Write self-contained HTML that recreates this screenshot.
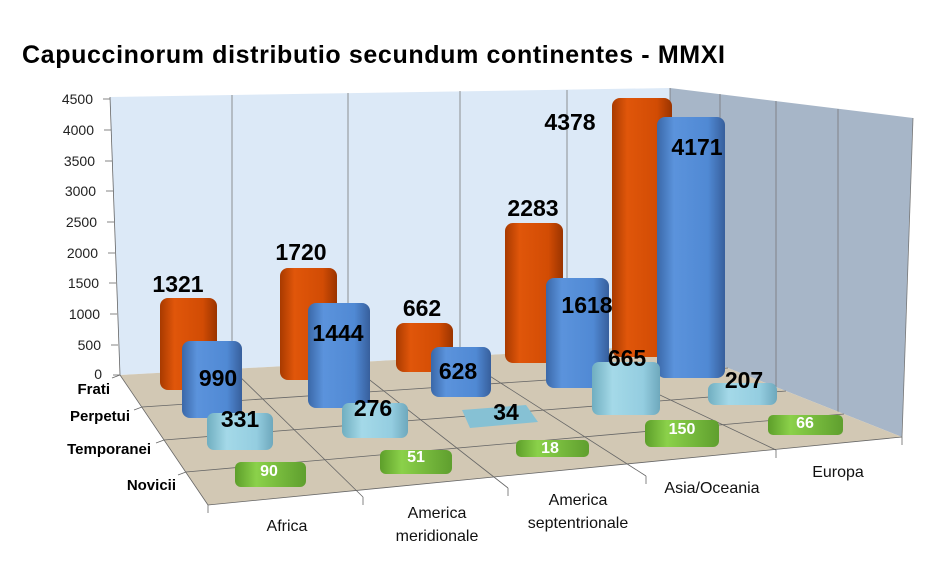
<!DOCTYPE html>
<html><head><meta charset="utf-8"><style>body{margin:0;background:#fff}svg{display:block}</style></head><body>
<svg width="950" height="576" viewBox="0 0 950 576" xmlns="http://www.w3.org/2000/svg" font-family="Liberation Sans, sans-serif">
<defs>
<linearGradient id="go" x1="0" x2="1"><stop offset="0" stop-color="#a83a00"/><stop offset="0.25" stop-color="#e0560a"/><stop offset="0.75" stop-color="#d24c04"/><stop offset="1" stop-color="#9a3400"/></linearGradient>
<linearGradient id="gb" x1="0" x2="1"><stop offset="0" stop-color="#3a68a8"/><stop offset="0.25" stop-color="#5b93dc"/><stop offset="0.75" stop-color="#5089d4"/><stop offset="1" stop-color="#375f9c"/></linearGradient>
<linearGradient id="gl" x1="0" x2="1"><stop offset="0" stop-color="#70aec0"/><stop offset="0.3" stop-color="#a4d9e8"/><stop offset="0.75" stop-color="#94cde0"/><stop offset="1" stop-color="#6ea8bc"/></linearGradient>
<linearGradient id="gg" x1="0" x2="1"><stop offset="0" stop-color="#5d9e2a"/><stop offset="0.3" stop-color="#8bd14a"/><stop offset="1" stop-color="#5f9f2e"/></linearGradient>
</defs>
<text x="22" y="63" font-size="25" font-weight="bold" textLength="703" fill="#000">Capuccinorum distributio secundum continentes - MMXI</text>
<!-- walls -->
<polygon points="110,97 670,88 670,345 120,375" fill="#dce9f7"/>
<polygon points="670,88 913,118 902,437 670,345" fill="#a7b6c8"/>
<g stroke="#777" stroke-width="0.8">
<line x1="232" y1="95" x2="232" y2="369"/><line x1="348" y1="93" x2="348" y2="363"/><line x1="460" y1="91" x2="460" y2="357"/><line x1="567" y1="90" x2="567" y2="351"/>
<line x1="670" y1="88" x2="670" y2="345"/><line x1="720" y1="94" x2="720" y2="365"/><line x1="776" y1="101" x2="776" y2="387"/><line x1="838" y1="109" x2="838" y2="412"/><line x1="913" y1="118" x2="902" y2="437"/>
</g>
<!-- floor -->
<polygon points="120,375 670,345 902,437 208,505" fill="#d2c8b4"/>
<g stroke="#666" stroke-width="0.8" fill="none">
<line x1="120" y1="375" x2="208" y2="505"/><line x1="232" y1="369" x2="363" y2="497"/><line x1="348" y1="363" x2="508" y2="488"/><line x1="460" y1="357" x2="646" y2="476"/><line x1="567" y1="351" x2="776" y2="450"/>
<line x1="142" y1="407" x2="728" y2="368"/><line x1="164" y1="440" x2="786" y2="391"/><line x1="186" y1="472" x2="844" y2="414"/>
<line x1="208" y1="505" x2="902" y2="437"/>
<line x1="110" y1="97" x2="120" y2="375"/>
<line x1="208" y1="505" x2="208" y2="513"/><line x1="363" y1="497" x2="363" y2="505"/><line x1="508" y1="488" x2="508" y2="496"/><line x1="646" y1="476" x2="646" y2="484"/><line x1="776" y1="450" x2="776" y2="458"/><line x1="902" y1="437" x2="902" y2="445"/>
<line x1="120" y1="375" x2="112" y2="378"/><line x1="142" y1="407" x2="134" y2="410"/><line x1="164" y1="440" x2="156" y2="443"/><line x1="186" y1="472" x2="178" y2="475"/>
<line x1="103" y1="99" x2="110" y2="99"/><line x1="104" y1="130" x2="111" y2="130"/><line x1="105" y1="161" x2="112" y2="161"/><line x1="106" y1="191" x2="113" y2="191"/><line x1="107" y1="222" x2="114" y2="222"/><line x1="108" y1="253" x2="115" y2="253"/><line x1="109" y1="283" x2="116" y2="283"/><line x1="110" y1="314" x2="117" y2="314"/><line x1="111" y1="345" x2="118" y2="345"/><line x1="113" y1="375" x2="120" y2="375"/>
</g>
<g font-size="14" fill="#222" text-anchor="end">
<text x="93" y="104">4500</text><text x="94" y="135">4000</text><text x="95" y="166">3500</text><text x="96" y="196">3000</text><text x="97" y="227">2500</text><text x="98" y="258">2000</text><text x="99" y="288">1500</text><text x="100" y="319">1000</text><text x="101" y="350">500</text><text x="102" y="379">0</text>
</g>
<g font-size="15" font-weight="bold" fill="#000" text-anchor="end">
<text x="110" y="394">Frati</text><text x="130" y="421">Perpetui</text><text x="151" y="454">Temporanei</text><text x="176" y="490">Novicii</text>
</g>
<!-- bars Frati -->
<g>
<rect x="160" y="298" width="57" height="92" rx="8" fill="url(#go)"/>
<rect x="280" y="268" width="57" height="112" rx="8" fill="url(#go)"/>
<rect x="396" y="323" width="57" height="49" rx="8" fill="url(#go)"/>
<rect x="505" y="223" width="58" height="140" rx="8" fill="url(#go)"/>
<rect x="612" y="98" width="60" height="259" rx="8" fill="url(#go)"/>
</g>
<g>
<rect x="182" y="341" width="60" height="77" rx="8" fill="url(#gb)"/>
<rect x="308" y="303" width="62" height="105" rx="8" fill="url(#gb)"/>
<rect x="431" y="347" width="60" height="50" rx="8" fill="url(#gb)"/>
<rect x="546" y="278" width="63" height="110" rx="8" fill="url(#gb)"/>
<rect x="657" y="117" width="68" height="261" rx="8" fill="url(#gb)"/>
</g>
<g>
<rect x="207" y="413" width="66" height="37" rx="7" fill="url(#gl)"/>
<rect x="342" y="403" width="66" height="35" rx="7" fill="url(#gl)"/>
<polygon points="462,410 526,405 538,422 470,428" fill="#86c1d4"/>
<rect x="592" y="362" width="68" height="53" rx="7" fill="url(#gl)"/>
<rect x="708" y="383" width="69" height="22" rx="7" fill="url(#gl)"/>
</g>
<g>
<rect x="235" y="462" width="71" height="25" rx="6" fill="url(#gg)"/>
<rect x="380" y="450" width="72" height="24" rx="6" fill="url(#gg)"/>
<rect x="516" y="440" width="73" height="17" rx="5" fill="url(#gg)"/>
<rect x="645" y="420" width="74" height="27" rx="6" fill="url(#gg)"/>
<rect x="768" y="415" width="75" height="20" rx="5" fill="url(#gg)"/>
</g>
<g font-size="23" font-weight="bold" fill="#000" text-anchor="middle">
<text x="178" y="292">1321</text><text x="301" y="260">1720</text><text x="422" y="316">662</text><text x="533" y="216">2283</text><text x="570" y="130">4378</text>
<text x="218" y="386">990</text><text x="338" y="341">1444</text><text x="458" y="379">628</text><text x="587" y="313">1618</text><text x="697" y="155">4171</text>
<text x="240" y="427">331</text><text x="373" y="416">276</text><text x="506" y="420">34</text><text x="627" y="366">665</text><text x="744" y="388">207</text>
</g>
<g font-size="16" font-weight="bold" fill="#fff" text-anchor="middle">
<text x="269" y="476">90</text><text x="416" y="462">51</text><text x="550" y="453">18</text><text x="682" y="434">150</text><text x="805" y="428">66</text>
</g>
<g font-size="16" fill="#111" text-anchor="middle">
<text x="287" y="531">Africa</text>
<text x="437" y="518">America</text><text x="437" y="541">meridionale</text>
<text x="578" y="505">America</text><text x="578" y="528">septentrionale</text>
<text x="712" y="493">Asia/Oceania</text>
<text x="838" y="477">Europa</text>
</g>
</svg>
</body></html>
